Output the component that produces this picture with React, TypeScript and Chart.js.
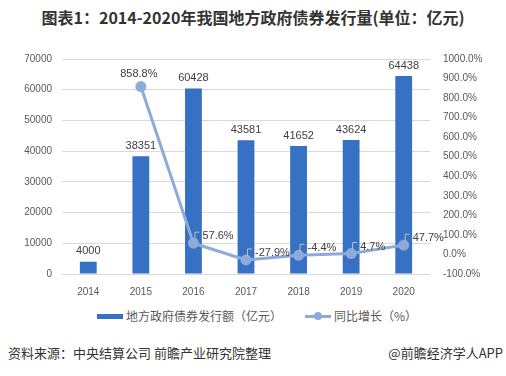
import React, { useEffect, useRef } from "react";
import { Chart, registerables } from "chart.js";
Chart.register(...registerables);

const years = ["2014", "2015", "2016", "2017", "2018", "2019", "2020"];
const issuance = [4000, 38351, 60428, 43581, 41652, 43624, 64438];
const growth: (number | null)[] = [null, 858.8, 57.6, -27.9, -4.4, 4.7, 47.7];

const BAR_COLOR = "#3671c4";
const LINE_COLOR = "#8eaadb";
const TEXT = "#404040";
const NUM_FONT = "'Liberation Sans', Arial, sans-serif";
const CJK_FONT = "'Noto Sans CJK SC', sans-serif";

const labelPlugin = {
  id: "valueLabels",
  afterDatasetsDraw(chart: any) {
    const ctx = chart.ctx;
    ctx.save();
    ctx.font = `11px ${NUM_FONT}`;
    ctx.fillStyle = TEXT;
    const barMeta = chart.getDatasetMeta(1);
    barMeta.data.forEach((el: any, i: number) => {
      ctx.textAlign = "center";
      ctx.textBaseline = "bottom";
      ctx.fillText(String(issuance[i]), el.x, el.y - 5);
    });
    const lineMeta = chart.getDatasetMeta(0);
    lineMeta.data.forEach((el: any, i: number) => {
      const v = growth[i];
      if (v === null || v === undefined) return;
      const txt = v.toFixed(1) + "%";
      if (i === 1) {
        ctx.textAlign = "center";
        ctx.textBaseline = "middle";
        ctx.fillText(txt, el.x - 2, el.y - 13);
      } else {
        ctx.strokeStyle = "#bfbfbf";
        ctx.lineWidth = 1;
        ctx.beginPath();
        ctx.moveTo(el.x + 1.5, el.y - 4);
        ctx.lineTo(el.x + 1.5, el.y - 11);
        ctx.lineTo(el.x + 6, el.y - 11);
        ctx.stroke();
        ctx.textAlign = "left";
        ctx.textBaseline = "middle";
        ctx.fillText(txt, el.x + 9, el.y - 7);
      }
    });
    ctx.restore();
  },
};

export default function App() {
  const ref = useRef<HTMLCanvasElement>(null);
  useEffect(() => {
    document.body.style.margin = "0";
    const chart = new Chart(ref.current!, {
      type: "bar",
      data: {
        labels: years,
        datasets: [
          {
            type: "line",
            label: "同比增长（%）",
            data: growth,
            yAxisID: "y1",
            borderColor: LINE_COLOR,
            backgroundColor: LINE_COLOR,
            borderWidth: 3,
            pointRadius: 4,
            pointBackgroundColor: LINE_COLOR,
            pointBorderColor: LINE_COLOR,
            order: 0,
          } as any,
          {
            type: "bar",
            label: "地方政府债券发行额（亿元）",
            data: issuance,
            yAxisID: "y",
            backgroundColor: BAR_COLOR,
            barPercentage: 0.32,
            categoryPercentage: 1,
            order: 1,
          },
        ],
      },
      options: {
        animation: false,
        responsive: false,
        maintainAspectRatio: false,
        layout: { padding: { top: 16, bottom: 0, left: 0, right: 0 } },
        plugins: { legend: { display: false }, tooltip: { enabled: false }, title: { display: false } },
        scales: {
          x: {
            grid: { display: false },
            border: { display: false },
            ticks: { color: "#595959", font: { size: 10, family: NUM_FONT }, padding: 4 },
          },
          y: {
            position: "left",
            min: 0,
            max: 70000,
            ticks: {
              stepSize: 10000,
              color: "#595959",
              font: { size: 10, family: NUM_FONT },
              padding: 10,
              callback: (v: any) => String(v),
            },
            grid: { color: "#d9d9d9", drawTicks: false },
            border: { display: false },
            afterFit: (s: any) => { s.width = 62; },
          },
          y1: {
            position: "right",
            min: -100,
            max: 1000,
            ticks: {
              stepSize: 100,
              color: "#595959",
              font: { size: 10, family: NUM_FONT },
              padding: 13,
              callback: (v: any) => Number(v).toFixed(1) + "%",
            },
            grid: { display: false, drawTicks: false },
            border: { display: false },
            afterFit: (s: any) => { s.width = 76; },
          },
        },
      },
      plugins: [labelPlugin],
    });
    return () => chart.destroy();
  }, []);

  return (
    <div style={{ position: "relative", width: 506, height: 376, background: "#fff", overflow: "hidden" }}>
      <div style={{ position: "absolute", top: 6, left: 0, width: 506, textAlign: "center", font: `bold 16px ${CJK_FONT}`, color: "#333", lineHeight: "22px" }}>
        图表1：2014-2020年我国地方政府债券发行量(单位：亿元)
      </div>
      <canvas ref={ref} width={506} height={262} style={{ position: "absolute", top: 40, left: 0, width: 506, height: 262 }} />
      <div style={{ position: "absolute", top: 307, left: 0, width: 506, height: 18, font: `12px ${CJK_FONT}`, color: "#595959" }}>
        <div style={{ position: "absolute", left: 97, top: 7, width: 26, height: 5, background: BAR_COLOR }} />
        <div style={{ position: "absolute", left: 126, top: 0, lineHeight: "18px", whiteSpace: "nowrap" }}>地方政府债券发行额（亿元）</div>
        <div style={{ position: "absolute", left: 305, top: 8, width: 26, height: 3, background: LINE_COLOR }} />
        <div style={{ position: "absolute", left: 314, top: 5, width: 8, height: 8, borderRadius: 4, background: LINE_COLOR }} />
        <div style={{ position: "absolute", left: 334, top: 0, lineHeight: "18px", whiteSpace: "nowrap" }}>同比增长（%）</div>
      </div>
      <div style={{ position: "absolute", top: 343, left: 8, font: `13px ${CJK_FONT}`, color: "#333", lineHeight: "20px", whiteSpace: "nowrap" }}>
        资料来源：中央结算公司 前瞻产业研究院整理
      </div>
      <div style={{ position: "absolute", top: 343, right: 3, font: `13px ${CJK_FONT}`, color: "#333", lineHeight: "20px", whiteSpace: "nowrap" }}>
        @前瞻经济学人APP
      </div>
    </div>
  );
}
